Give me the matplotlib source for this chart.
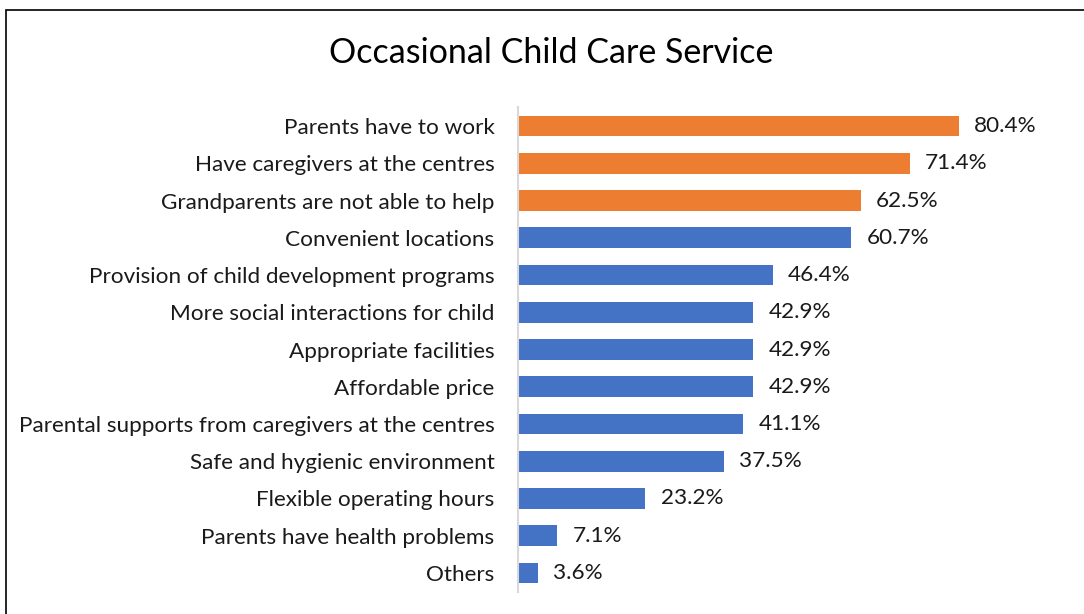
import numpy as np
import matplotlib as mpl
mpl.use('Agg')
import matplotlib.pyplot as plt
from matplotlib.patches import Rectangle

# data, top to bottom
categories = ["Parents have to work", "Have caregivers at the centres",
              "Grandparents are not able to help", "Convenient locations",
              "Provision of child development programs",
              "More social interactions for child", "Appropriate facilities",
              "Affordable price",
              "Parental supports from caregivers at the centres",
              "Safe and hygienic environment", "Flexible operating hours",
              "Parents have health problems", "Others"]
values = [80.4, 71.4, 62.5, 60.7, 46.4, 42.9, 42.9, 42.9, 41.1, 37.5, 23.2, 7.1, 3.6]
highlight = 3  # first three bars in orange

ORANGE = "#ED7D31"
BLUE = "#4472C4"
FONT = "Lato"

W, H = 1084, 614
fig = plt.figure(figsize=(W / 100, H / 100), dpi=100)

# outer chart border (cropped screenshot: only left and top edges visible)
fig.add_artist(Rectangle((6 / W, -0.1), 1.2, 1 - 9.5 / H + 0.1,
                         transform=fig.transFigure, fill=False,
                         edgecolor="black", lw=1.2))

ax = fig.add_axes([518 / W, 1 - 591.6 / H, 548.5 / W, (591.6 - 107.4) / H])

pos = np.arange(len(values))
colors = [ORANGE if i < highlight else BLUE for i in range(len(values))]
ax.barh(pos, values, height=0.56, color=colors)

for p, v in zip(pos, values):
    ax.text(v + 2.8, p, "{:.1f}%".format(v), va="center", ha="left",
            fontsize=16.2, family=FONT, color="#1a1a1a")

ax.set_xlim(0, 100)
ax.set_ylim(len(values) - 0.5, -0.5)
ax.set_yticks(pos)
ax.set_yticklabels(categories, fontsize=16.2, family=FONT, color="#1a1a1a")
ax.tick_params(axis="y", length=0, pad=17)
ax.set_xticks([])
for s in ["top", "right", "bottom"]:
    ax.spines[s].set_visible(False)
ax.spines["left"].set_color("#D9D9D9")
ax.spines["left"].set_linewidth(1.5)

fig.text(551 / W, 1 - 53 / H, "Occasional Child Care Service", ha="center",
         va="center", fontsize=24.5, family=FONT, color="black")

plt.savefig("out.png", dpi=100)
